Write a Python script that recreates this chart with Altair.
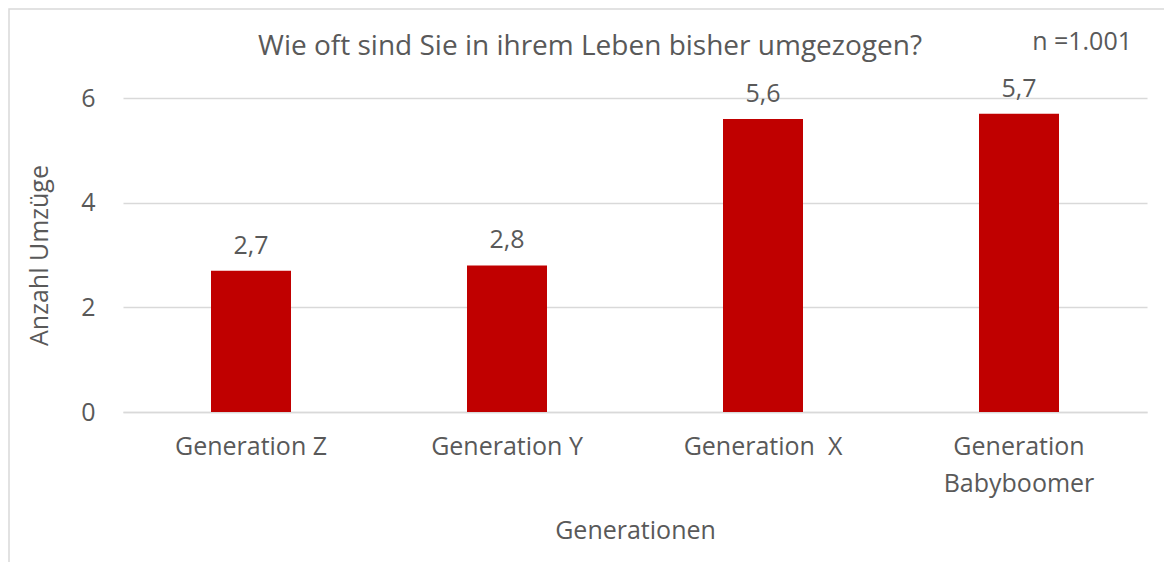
import altair as alt
import pandas as pd

categories = ["Generation Z", "Generation Y", "Generation  X", "Generation Babyboomer"]
values = [2.7, 2.8, 5.6, 5.7]
labels = ["2,7", "2,8", "5,6", "5,7"]
y_ticks = [0, 2, 4, 6]
title_text = "Wie oft sind Sie in ihrem Leben bisher umgezogen?"
n_text = "n =1.001"

df = pd.DataFrame({"gen": categories, "val": values, "lab": labels})

FONT = "Open Sans"
GRAY = "#595959"
FS = 25
W, H = 1024, 314

x = alt.X("gen:N", sort=categories,
          scale=alt.Scale(paddingInner=0.6875, paddingOuter=0.34375),
          axis=alt.Axis(title="Generationen", labelAngle=0, labelFontSize=FS,
                        labelColor=GRAY, labelFont=FONT, labelPadding=22,
                        labelLineHeight=37, labelBaseline="top",
                        labelExpr="datum.label == 'Generation Babyboomer' ? ['Generation','Babyboomer'] : replace(datum.label, '  ', ' \u00a0')",
                        titleFontSize=FS, titleFont=FONT, titleColor=GRAY,
                        titleFontWeight="normal", titlePadding=22,
                        domain=True, domainColor="#d9d9d9", domainWidth=1.5,
                        ticks=False, grid=False))
y = alt.Y("val:Q", scale=alt.Scale(domain=[0, 6], nice=False),
          axis=alt.Axis(title="Anzahl Umzüge", values=y_ticks, labelFontSize=FS,
                        labelColor=GRAY, labelFont=FONT, labelPadding=28,
                        titleFontSize=FS, titleFont=FONT, titleColor=GRAY,
                        titleFontWeight="normal", titlePadding=28,
                        domain=False, ticks=False, grid=True,
                        gridColor="#d9d9d9", gridWidth=1.5))

bars = alt.Chart(df).mark_bar(color="#C00000").encode(x=x, y=y)
text = alt.Chart(df).mark_text(baseline="bottom", dy=-12, fontSize=FS, font=FONT,
                               color=GRAY).encode(x=alt.X("gen:N", sort=categories), y="val:Q", text="lab:N")

ntext = alt.Chart(pd.DataFrame({"t": [n_text]})).mark_text(
    align="right", baseline="middle", fontSize=FS, font=FONT, color=GRAY
).encode(x=alt.value(1009), y=alt.value(-56), text="t:N")

ttext = alt.Chart(pd.DataFrame({"t": [title_text]})).mark_text(
    align="center", baseline="middle", fontSize=28, font=FONT, color=GRAY
).encode(x=alt.value(467), y=alt.value(-51), text="t:N")

border = alt.Chart(pd.DataFrame({"a": [0]})).mark_rect(
    fill=None, stroke="#d9d9d9", strokeWidth=1.5
).encode(x=alt.value(-114), x2=alt.value(1200), y=alt.value(-89), y2=alt.value(600))

chart = alt.layer(border, bars, text, ntext, ttext).properties(
    width=W, height=H,
    padding={"left": 115, "top": 90, "right": 17, "bottom": 150},
    autosize=alt.AutoSizeParams(type="none"),
).configure_view(stroke=None)

chart.save("out.html", embed_options={"renderer": "svg", "actions": False})
